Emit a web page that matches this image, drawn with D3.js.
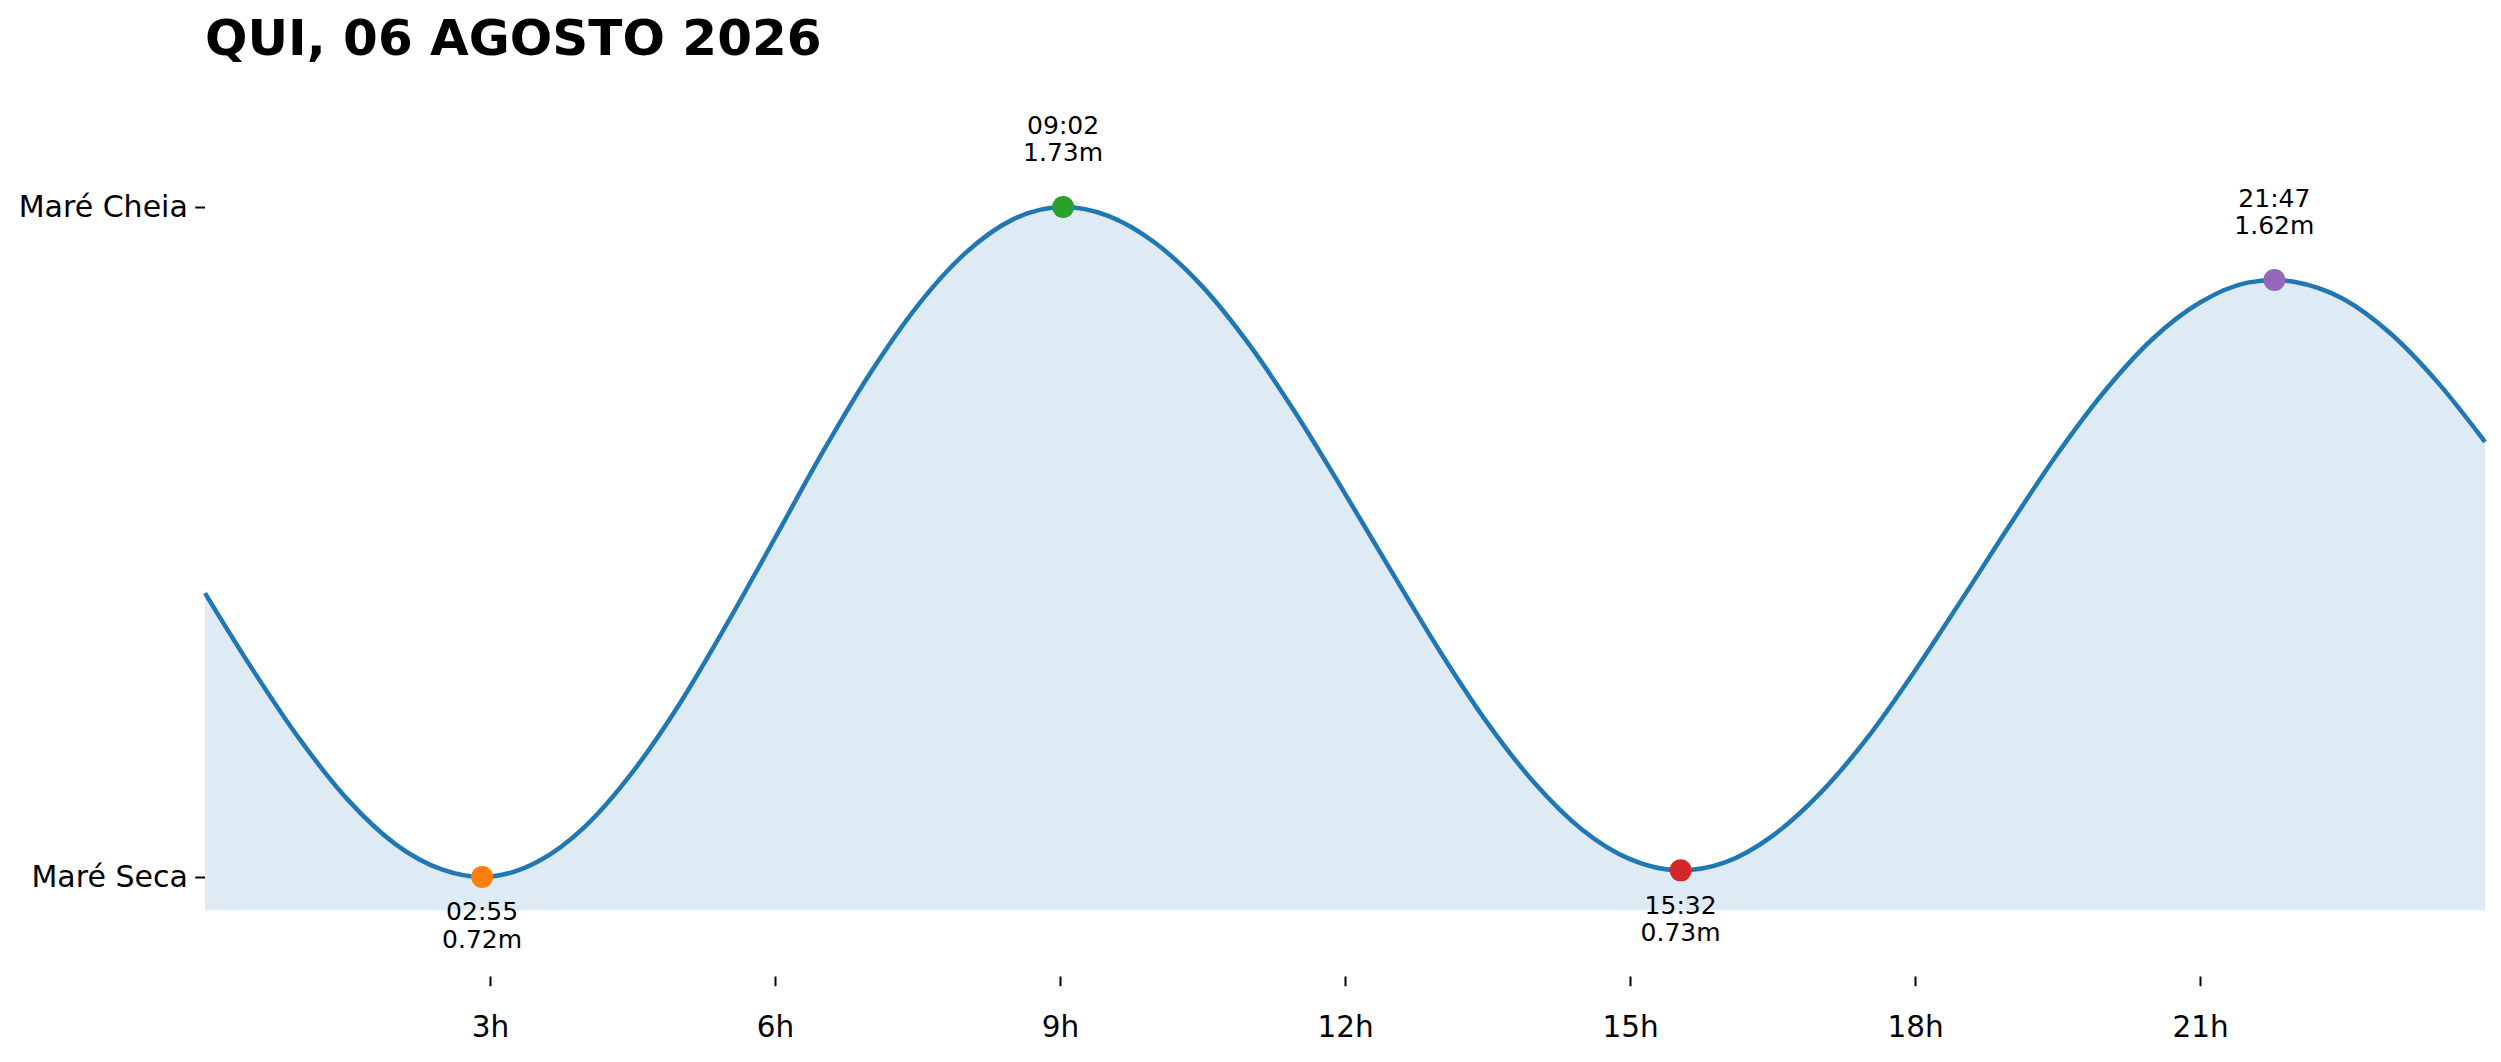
<!DOCTYPE html>
<html><head><meta charset="utf-8">
<script src="https://cdn.jsdelivr.net/npm/d3@7"></script>
<style>html,body{margin:0;padding:0;background:#fff}svg{display:block}</style>
</head><body>
<svg id="chart" width="2501" height="1062"></svg>
<script>
const title = "QUI, 06 AGOSTO 2026";

// tide curve (hours of the day, height in metres)
const hours = [0,0.5,1,1.5,2,2.5,2.917,3.5,4,4.5,5,5.5,6,6.5,7,7.5,8,8.5,9.033,
  9.5,10,10.5,11,11.5,12,12.5,13,13.5,14,14.5,15,15.533,16,16.5,17,17.5,18,18.5,19,
  19.5,20,20.5,21,21.5,21.783,22,22.5,23,23.5,24];
const heights = [1.148,1.033,0.927,0.837,0.770,0.731,0.720,0.743,0.796,0.878,0.982,1.103,1.231,1.360,1.479,1.581,1.660,1.711,1.730,
  1.717,1.676,1.610,1.521,1.415,1.298,1.178,1.060,0.952,0.861,0.791,0.747,0.730,0.742,0.782,0.846,0.930,1.031,1.140,1.251,
  1.358,1.453,1.531,1.586,1.616,1.620,1.617,1.592,1.540,1.466,1.376];

// extremes
const extremeTimes = [2.917, 9.033, 15.533, 21.783];
const extremeLabels = ["02:55", "09:02", "15:32", "21:47"];
const extremeHeights = [0.72, 1.73, 0.73, 1.62];
const extremeTypes = ["low", "high", "low", "high"];
const extremeColors = ["#ff7f0e", "#2ca02c", "#d62728", "#9467bd"];

// ticks
const xTicks = [3, 6, 9, 12, 15, 18, 21];
const xTickLabels = ["3h", "6h", "9h", "12h", "15h", "18h", "21h"];
const yTickLabels = ["Maré Seca", "Maré Cheia"];

const FONT = "'DejaVu Sans', sans-serif";
const svg = d3.select("#chart");

const yMin = d3.min(extremeHeights), yMax = d3.max(extremeHeights);
const x = d3.scaleLinear().domain([0, 24]).range([205, 2485]);
const y = d3.scaleLinear().domain([yMin, yMax]).range([877, 207]);

const pts = hours.map((h, i) => ({t: h, v: heights[i]}));
const curve = d3.curveMonotoneX;

// fill
svg.append("path")
  .datum(pts)
  .attr("d", d3.area().x(d => x(d.t)).y0(y(yMin - 0.05)).y1(d => y(d.v)).curve(curve))
  .attr("fill", "#1f77b4").attr("fill-opacity", 0.15);

// line
svg.append("path")
  .datum(pts)
  .attr("d", d3.line().x(d => x(d.t)).y(d => y(d.v)).curve(curve))
  .attr("fill", "none").attr("stroke", "#1f77b4").attr("stroke-width", 4.5);

// extremes markers + labels
extremeTimes.forEach((t, i) => {
  const cx = x(t), cy = y(extremeHeights[i]);
  svg.append("circle").attr("cx", cx).attr("cy", cy).attr("r", 11).attr("fill", extremeColors[i]);
  const isHigh = extremeTypes[i] === "high";
  const b1 = isHigh ? cy - 73.4 : cy + 43.3;
  const txt = svg.append("text")
    .attr("text-anchor", "middle")
    .attr("font-family", FONT).attr("font-size", 25).attr("fill", "#000");
  txt.append("tspan").attr("x", cx).attr("y", b1).text(extremeLabels[i]);
  txt.append("tspan").attr("x", cx).attr("y", b1 + 27.7).text(extremeHeights[i].toFixed(2) + "m");
});

// x axis
const xAxis = d3.axisBottom(x)
  .tickValues(xTicks)
  .tickFormat((d, i) => xTickLabels[i])
  .tickSize(9.7).tickPadding(30);
const gx = svg.append("g").attr("transform", `translate(0,${y(yMin - 0.15)})`).call(xAxis);
gx.select(".domain").remove();
gx.selectAll(".tick line").attr("stroke", "#000").attr("stroke-width", 2);
gx.selectAll(".tick text").attr("font-family", FONT).attr("font-size", 29.5).attr("fill", "#000");

// y axis
const yAxis = d3.axisLeft(y)
  .tickValues([yMin, yMax])
  .tickFormat((d, i) => yTickLabels[i])
  .tickSize(9.7).tickPadding(7.5);
const gy = svg.append("g").attr("transform", `translate(${x(0)},0)`).call(yAxis);
gy.select(".domain").remove();
gy.selectAll(".tick line").attr("stroke", "#000").attr("stroke-width", 2);
gy.selectAll(".tick text").attr("font-family", FONT).attr("font-size", 30).attr("fill", "#000");

// title
svg.append("text")
  .attr("x", x(0)).attr("y", 55)
  .attr("font-family", FONT).attr("font-weight", "bold").attr("font-size", 50)
  .attr("fill", "#000")
  .text(title);
</script>
</body></html>
